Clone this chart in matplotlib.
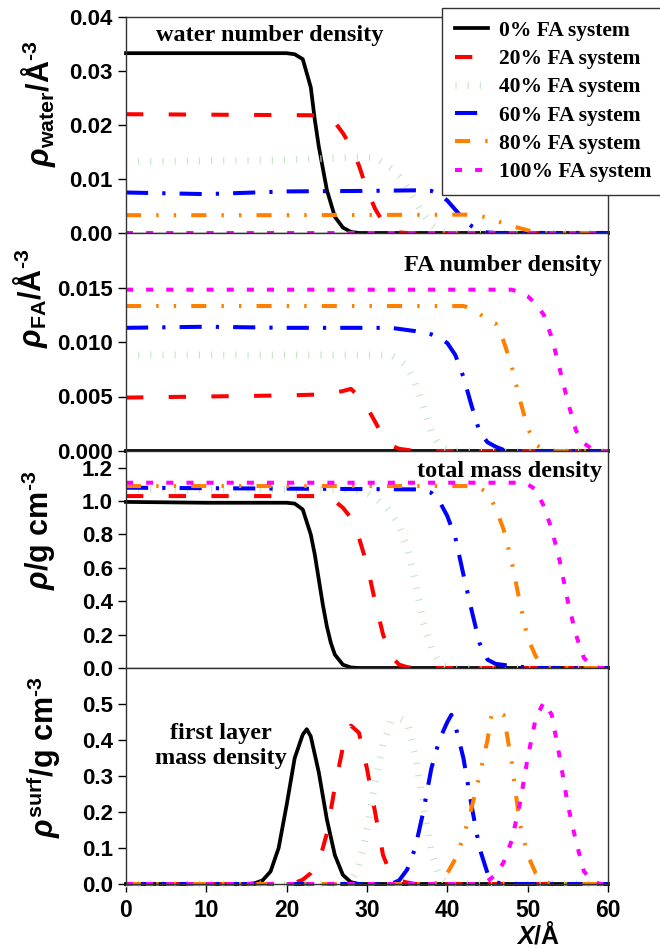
"""
Perfiles de densidad a lo largo de X para sistemas con 0-100% FA.
Cuatro paneles apilados que comparten el eje X.
"""

import matplotlib
matplotlib.use("Agg")  # headless
import matplotlib.pyplot as plt
from matplotlib.font_manager import FontProperties
from matplotlib.ticker import FormatStrFormatter

plt.rcParams.update({
    "font.family": "Liberation Sans",
    "font.weight": "bold",
    "mathtext.fontset": "custom",
    "mathtext.rm": "Liberation Sans:bold",
    "mathtext.bf": "Liberation Sans:bold",
    "mathtext.it": "Liberation Sans:italic",
    "axes.linewidth": 1.0,
    "axes.edgecolor": "#333333",
})

LABELS = ["0% FA system", "20% FA system", "40% FA system",
          "60% FA system", "80% FA system", "100% FA system"]

# ── Panel 1: water number density (Å^-3) ────────────────────────────────────
WATER_0 = ([0, 10, 20, 21, 22, 23, 23.5, 24, 25, 26, 27, 28, 29, 60],
           [0.0333, 0.0333, 0.0333, 0.0331, 0.0322, 0.027, 0.021, 0.016,
            0.008, 0.003, 0.001, 0.0002, 0, 0])
WATER_20 = ([0, 24, 25, 26, 27, 28, 29, 30, 31, 32, 33, 34, 35, 60],
            [0.022, 0.0218, 0.021, 0.0205, 0.0185, 0.016, 0.0125, 0.008,
             0.0045, 0.002, 0.0006, 0.0001, 0, 0])
WATER_40 = ([0, 20, 28, 31, 32, 33, 34, 35, 36, 37, 38, 39, 40, 41, 60],
            [0.0132, 0.0135, 0.014, 0.014, 0.013, 0.012, 0.0105, 0.0085,
             0.006, 0.0035, 0.0015, 0.0005, 0.0001, 0, 0])
WATER_60 = ([0, 10, 20, 30, 36, 38, 39, 40, 41, 42, 43, 44, 45, 46, 60],
            [0.0075, 0.0072, 0.0077, 0.0078, 0.0079, 0.0078, 0.0072, 0.006,
             0.0043, 0.0026, 0.0013, 0.0005, 0.0001, 0, 0])
WATER_80 = ([0, 20, 43, 44, 45, 46, 47, 48, 49, 50, 51, 52, 60],
            [0.0033, 0.0033, 0.0034, 0.0032, 0.0028, 0.0023, 0.0018,
             0.0013, 0.0009, 0.0005, 0.0002, 0, 0])
WATER_100 = ([0, 60], [0, 0])

# ── Panel 2: FA number density (Å^-3) ───────────────────────────────────────
FA_0 = ([0, 60], [0, 0])
FA_20 = ([0, 20, 25, 27, 28, 29, 30, 31, 32, 33, 34, 35, 36, 60],
         [0.0049, 0.0051, 0.0052, 0.0055, 0.0057, 0.005, 0.004, 0.0027,
          0.0013, 0.0005, 0.0002, 0.0001, 0, 0])
FA_40 = ([0, 33, 34, 35, 36, 37, 38, 39, 40, 41, 60],
         [0.0088, 0.0088, 0.0084, 0.0077, 0.0062, 0.0042, 0.0018, 0.0005,
          0.0001, 0, 0])
FA_60 = ([0, 10, 20, 33, 36, 38, 39, 40, 41, 42, 43, 44, 45, 46, 47, 48, 60],
         [0.0113, 0.0114, 0.0113, 0.0113, 0.011, 0.0107, 0.0104, 0.0099,
          0.0088, 0.0068, 0.0042, 0.0018, 0.0008, 0.0004, 0.0001, 0, 0])
FA_80 = ([0, 42, 43, 44, 45, 46, 47, 48, 49, 50, 51, 52, 53, 60],
         [0.0133, 0.0133, 0.0131, 0.0126, 0.012, 0.0117, 0.0101, 0.0078,
          0.0048, 0.0021, 0.0006, 0.0001, 0, 0])
FA_100 = ([0, 48, 49, 50, 51, 52, 53, 54, 55, 56, 57, 58, 59, 60],
          [0.0148, 0.0148, 0.0146, 0.0142, 0.0135, 0.0125, 0.0104, 0.0075,
           0.0045, 0.0019, 0.0007, 0.0002, 0, 0])

# ── Panel 3: total mass density (g cm^-3) ───────────────────────────────────
MASS_0 = ([0, 10, 20, 21, 22, 23, 23.5, 24, 24.5, 25, 25.5, 26, 27, 28, 29, 60],
          [0.995, 0.99, 0.99, 0.985, 0.95, 0.8, 0.68, 0.53, 0.38, 0.25,
           0.15, 0.08, 0.02, 0.003, 0, 0])
MASS_20 = ([0, 25, 26, 27, 28, 29, 30, 31, 32, 33, 34, 35, 36, 60],
           [1.03, 1.03, 1.0, 0.96, 0.9, 0.78, 0.62, 0.4, 0.2, 0.07, 0.02,
            0.005, 0, 0])
MASS_40 = ([0, 28, 30, 31, 32, 33, 34, 35, 36, 37, 38, 39, 40, 41, 60],
           [1.07, 1.07, 1.05, 1.02, 0.98, 0.93, 0.85, 0.72, 0.52, 0.28,
            0.12, 0.03, 0.005, 0, 0])
MASS_60 = ([0, 36, 37, 38, 39, 40, 41, 42, 43, 44, 45, 46, 48, 50, 51, 60],
           [1.08, 1.07, 1.065, 1.05, 1.0, 0.91, 0.78, 0.56, 0.35, 0.15,
            0.05, 0.025, 0.012, 0.003, 0, 0])
MASS_80 = ([0, 43, 44, 45, 46, 47, 48, 49, 50, 51, 52, 53, 60],
           [1.09, 1.09, 1.08, 1.05, 0.96, 0.83, 0.64, 0.4, 0.18, 0.07,
            0.01, 0, 0])
MASS_100 = ([0, 49, 50, 51, 52, 53, 54, 55, 56, 57, 58, 59, 60],
            [1.11, 1.11, 1.1, 1.07, 0.97, 0.83, 0.64, 0.4, 0.2, 0.06,
             0.015, 0, 0])

# ── Panel 4: first layer mass density (g cm^-3) ─────────────────────────────
SURF_0 = ([0, 15, 16, 17, 18, 19, 20, 21, 22, 22.5, 23, 24, 25, 26, 27, 28, 29, 60],
          [0, 0, 0.002, 0.01, 0.035, 0.1, 0.22, 0.35, 0.415, 0.43, 0.41,
           0.31, 0.18, 0.08, 0.025, 0.005, 0, 0])
SURF_20 = ([0, 20, 21, 22, 23, 24, 25, 26, 27, 28, 29, 30, 31, 32, 33, 34, 35, 36, 60],
           [0, 0, 0.003, 0.012, 0.03, 0.06, 0.14, 0.27, 0.38, 0.44, 0.42,
            0.32, 0.2, 0.08, 0.025, 0.01, 0.004, 0, 0])
SURF_40 = ([0, 27, 28, 29, 30, 31, 32, 33, 34, 35, 36, 37, 38, 39, 40, 41, 60],
           [0, 0, 0.01, 0.05, 0.15, 0.28, 0.39, 0.45, 0.46, 0.45, 0.36,
            0.22, 0.09, 0.02, 0.003, 0, 0])
SURF_60 = ([0, 33, 34, 35, 36, 37, 38, 39, 40, 40.5, 41, 42, 43, 44, 45, 46, 47, 60],
           [0, 0, 0.01, 0.04, 0.1, 0.2, 0.32, 0.4, 0.45, 0.47, 0.44, 0.35,
            0.22, 0.1, 0.03, 0.005, 0, 0])
SURF_80 = ([0, 38, 39, 40, 41, 42, 43, 44, 45, 45.5, 46, 47, 48, 49, 50, 51, 52, 53, 60],
           [0, 0, 0.005, 0.03, 0.07, 0.13, 0.21, 0.3, 0.4, 0.47, 0.48, 0.47,
            0.34, 0.17, 0.08, 0.03, 0.008, 0, 0])
SURF_100 = ([0, 44, 45, 46, 47, 48, 49, 50, 51, 52, 53, 54, 55, 56, 57, 58, 59, 60],
            [0, 0, 0.008, 0.025, 0.06, 0.12, 0.22, 0.35, 0.46, 0.505, 0.47,
             0.35, 0.22, 0.12, 0.035, 0.01, 0, 0])

PANEL_DATA = [
    [WATER_0, WATER_20, WATER_40, WATER_60, WATER_80, WATER_100],
    [FA_0, FA_20, FA_40, FA_60, FA_80, FA_100],
    [MASS_0, MASS_20, MASS_40, MASS_60, MASS_80, MASS_100],
    [SURF_0, SURF_20, SURF_40, SURF_60, SURF_80, SURF_100],
]

# estilo de cada serie (color, ancho, patrón de trazos en unidades de ancho)
LW = 2.9  # ~4 px
STYLES = [
    dict(color="black", lw=2.7, ls="-"),
    dict(color="#ff0000", lw=LW, dashes=(4.3, 6.3)),
    dict(color="#c3e4c3", lw=5.0, dashes=(0.15, 1.6)),
    dict(color="#0000ff", lw=LW, dashes=(5.5, 3.5, 0.8, 3.5)),
    dict(color="#ff8000", lw=LW, dashes=(3.75, 3.75, 0.6, 3.75, 0.6, 3.75)),
    dict(color="#ff00ff", lw=LW, dashes=(1.75, 3.25)),
]

# ── Layout en píxeles (figura 660x948) ──────────────────────────────────────
W, H = 660, 948
LEFT, RIGHT = 126, 608
EDGES = [17, 233, 451, 668, 884]

YLIMS = [(0, 0.04), (0, 0.02), (0, 1.3), (0, 0.6)]
YTICKS = [[0, 0.01, 0.02, 0.03, 0.04],
          [0, 0.005, 0.010, 0.015],
          [0, 0.2, 0.4, 0.6, 0.8, 1.0, 1.2],
          [0, 0.1, 0.2, 0.3, 0.4, 0.5]]
YFMT = ["%.2f", "%.3f", "%.1f", "%.1f"]
YLABELS = [r"$\mathit{\rho}_{\mathrm{water}}$/Å$^{\text{-3}}$",
           r"$\mathit{\rho}_{\mathrm{FA}}$/Å$^{\text{-3}}$",
           r"$\mathit{\rho}$/g cm$^{\text{-3}}$",
           r"$\mathit{\rho}^{\mathrm{surf}}$/g cm$^{\text{-3}}$"]
YLABEL_POS = [(-0.141, 0.60), (-0.158, 0.70), (-0.141, 0.635), (-0.131, 0.59)]

serif_bold = dict(family="Liberation Serif", weight="bold", size=17.5)

fig = plt.figure(figsize=(W / 100, H / 100), dpi=100)
for i in range(4):
    top, bot = EDGES[i], EDGES[i + 1]
    ax = fig.add_axes([LEFT / W, 1 - bot / H, (RIGHT - LEFT) / W, (bot - top) / H])
    lines = []
    for (xs, ys), st in zip(PANEL_DATA[i], STYLES):
        ln, = ax.plot(xs, ys, clip_on=False, **st)
        lines.append(ln)
    ax.set_xlim(0, 60)
    ax.set_ylim(*YLIMS[i])
    ax.set_yticks(YTICKS[i])
    ax.yaxis.set_major_formatter(FormatStrFormatter(YFMT[i]))
    ax.tick_params(axis="y", direction="out", length=5.5, width=1,
                   labelsize=16, pad=4)
    ax.set_ylabel(YLABELS[i], fontsize=22, fontweight="bold")
    ax.yaxis.set_label_coords(*YLABEL_POS[i])
    if i < 3:
        ax.tick_params(axis="x", bottom=False, labelbottom=False)
    else:
        ax.set_xticks(range(0, 61, 10))
        ax.tick_params(axis="x", direction="out", length=5.5, width=1,
                       labelsize=16.5, pad=5)
    if i == 0:
        legend_lines = lines

# panel titles
fig.text(270 / W, 1 - 36 / H, "water number density", ha="center", va="center", **serif_bold)
fig.text(602 / W, 1 - 265 / H, "FA number density", ha="right", va="center", **serif_bold)
fig.text(602 / W, 1 - 471 / H, "total mass density", ha="right", va="center", **serif_bold)
fig.text(221 / W, 1 - 746 / H, "first layer\nmass density", ha="center", va="center",
         linespacing=1.3, **serif_bold)

fig.text(538 / W, 1 - 935 / H, r"$X$/Å", ha="center", va="center",
         fontsize=18, fontweight="bold")

leg = fig.legend(legend_lines, LABELS, loc="upper left",
                 bbox_to_anchor=(442 / W, 1 - 8 / H),
                 prop=FontProperties(family="Liberation Serif", weight="bold", size=15.5),
                 frameon=True, fancybox=False, framealpha=1, edgecolor="#333333",
                 handlelength=1.55, handletextpad=0.5, labelspacing=0.38,
                 borderpad=0.6, borderaxespad=0)
leg.get_frame().set_linewidth(1.0)

fig.savefig("out.png", dpi=100)
